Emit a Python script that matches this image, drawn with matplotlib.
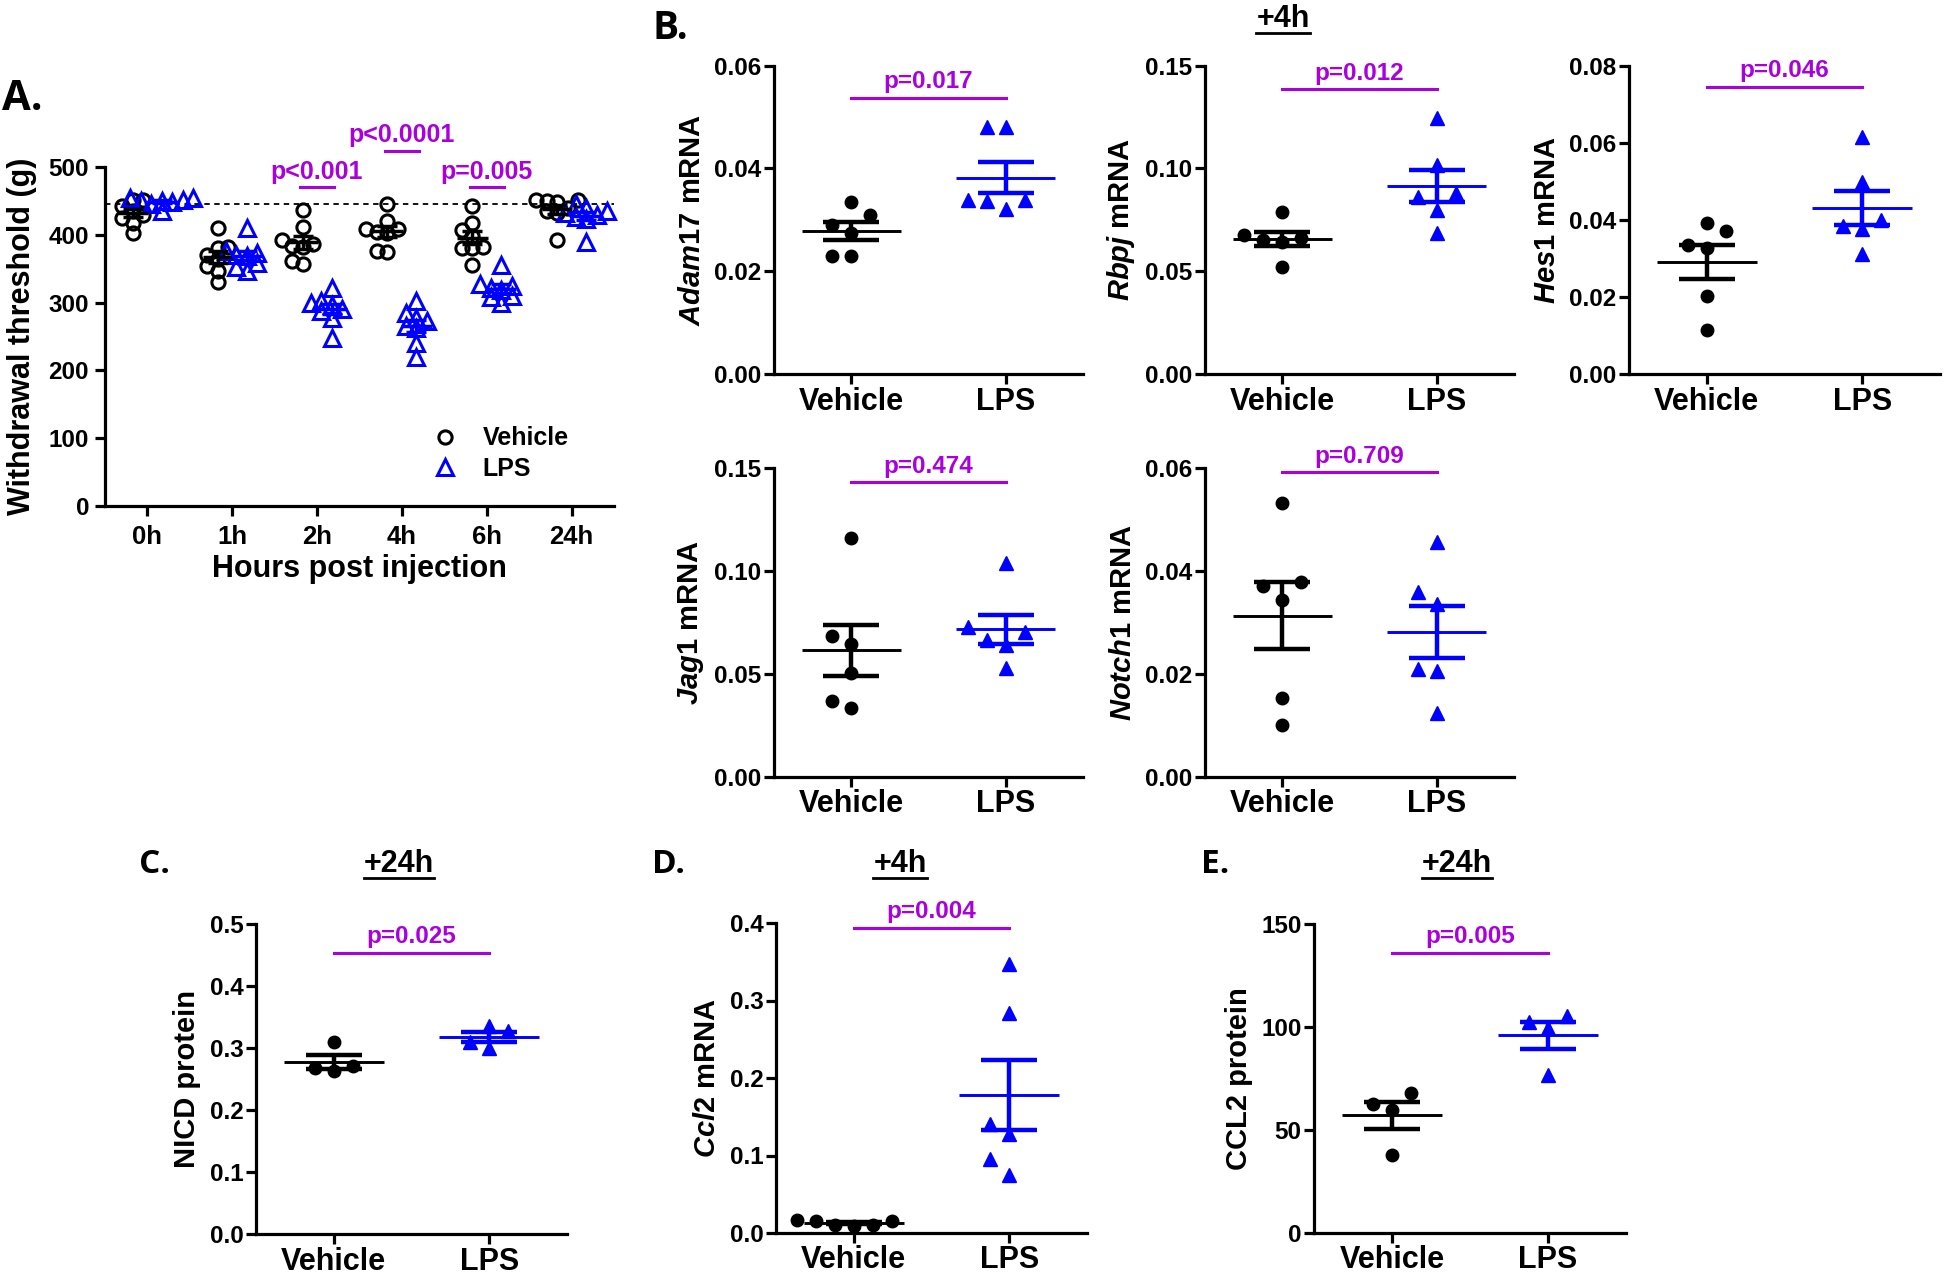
import numpy as np
import matplotlib
matplotlib.use('Agg')
import matplotlib.pyplot as plt
from matplotlib.lines import Line2D

# ---- data ----
hours = ['0h', '1h', '2h', '4h', '6h', '24h']
veh_threshold = [
  [452, 452, 443, 435, 429, 425, 418, 403],
  [410, 382, 380, 370, 365, 354, 346, 330],
  [437, 411, 392, 387, 384, 382, 361, 357],
  [446, 421, 409, 408, 404, 402, 376, 375],
  [442, 418, 407, 398, 382, 381, 380, 356],
  [452, 451, 450, 448, 440, 435, 432, 392],
]
lps_threshold = [
  [455, 455, 452, 450, 450, 448, 445, 435],
  [410, 376, 373, 370, 368, 358, 352, 346],
  [322, 302, 300, 296, 290, 288, 278, 248],
  [302, 284, 277, 273, 265, 262, 240, 220],
  [356, 327, 325, 322, 319, 310, 308, 299],
  [446, 440, 435, 432, 429, 426, 424, 389],
]
baseline_threshold = 445
a_pvals = ['', '', 'p<0.001', 'p<0.0001', 'p=0.005', '']
a_bar_y = [0, 0, 470, 524, 470, 0]

groups = ['Vehicle', 'LPS']

adam17_veh = [0.0335, 0.031, 0.029, 0.0275, 0.023, 0.023]
adam17_lps = [0.048, 0.048, 0.0338, 0.0336, 0.0338, 0.0322]
rbpj_veh = [0.0786, 0.0677, 0.066, 0.065, 0.064, 0.0523]
rbpj_lps = [0.1244, 0.1017, 0.0863, 0.088, 0.0799, 0.0685]
hes1_veh = [0.0393, 0.037, 0.0335, 0.0327, 0.0203, 0.0113]
hes1_lps = [0.0614, 0.0499, 0.040, 0.0383, 0.0376, 0.0312]
jag1_veh = [0.1157, 0.0683, 0.0642, 0.0502, 0.0367, 0.0332]
jag1_lps = [0.1039, 0.0725, 0.0704, 0.0663, 0.0639, 0.0526]
notch1_veh = [0.0532, 0.0379, 0.0371, 0.0343, 0.0152, 0.0100]
notch1_lps = [0.0455, 0.0358, 0.0335, 0.0210, 0.0205, 0.0123]
nicd_veh = [0.309, 0.2704, 0.2677, 0.2624]
nicd_lps = [0.335, 0.327, 0.309, 0.300]
ccl2_veh = [0.0150, 0.0108, 0.0086, 0.0163, 0.0099, 0.0150]
ccl2_lps = [0.3467, 0.2839, 0.1402, 0.1273, 0.0959, 0.0744]
ccl2p_veh = [67.96, 62.8, 59.5, 38.0]
ccl2p_lps = [105.5, 102.3, 99.5, 76.9]

BLUE = '#0000FF'
PURPLE = '#AA00DD'
W, H = 1944, 1274

plt.rcParams['font.family'] = ['Liberation Sans', 'DejaVu Sans']
plt.rcParams['font.weight'] = 'bold'
plt.rcParams['axes.labelweight'] = 'bold'
plt.rcParams['mathtext.fontset'] = 'custom'
plt.rcParams['mathtext.it'] = 'Liberation Sans:italic:bold'
plt.rcParams['mathtext.rm'] = 'Liberation Sans:bold'


def rect(l, t, r, b):
  return [l / W, 1 - b / H, (r - l) / W, (b - t) / H]


def swarm_x(ax, center, values, step_px, min_px):
  # column beeswarm: a point moves to the next free column when it would sit
  # on top of a point already placed in the same column
  tr = ax.transData
  px_per_x = tr.transform((1, 0))[0] - tr.transform((0, 0))[0]
  ys = [tr.transform((0, v))[1] for v in values]
  placed = []
  xs = [0.0] * len(values)
  for i in sorted(range(len(values)), key=lambda j: values[j]):
    for k in [0, -1, 1, -2, 2, -3, 3, -4, 4]:
      if all(k != pk or abs(ys[i] - py) >= min_px for pk, py in placed):
        break
    placed.append((k, ys[i]))
    xs[i] = center + k * step_px / px_per_x
  return xs


def style_axes(ax, ysize, xsize):
  ax.spines['top'].set_visible(False)
  ax.spines['right'].set_visible(False)
  ax.spines['left'].set_linewidth(2.3)
  ax.spines['bottom'].set_linewidth(2.3)
  ax.tick_params(width=2.3, length=7, pad=2)
  ax.tick_params(axis='y', labelsize=ysize)
  ax.tick_params(axis='x', labelsize=xsize)


def dot_panel(ax, veh, lps, ymax, ystep, fmt, ylabel, ptext, bar_y):
  ax.set_xlim(-0.5, 1.5)
  ax.set_ylim(0, ymax)
  ticks = np.arange(0, ymax + ystep / 2, ystep)
  ax.set_yticks(ticks)
  ax.set_yticklabels([fmt.format(t) for t in ticks])
  ax.set_xticks([0, 1])
  ax.set_xticklabels(groups)
  style_axes(ax, 17.5, 22)
  ax.set_ylabel(ylabel, fontsize=21, labelpad=6)
  for i, (vals, color, marker, ms) in enumerate([(veh, 'black', 'o', 9), (lps, BLUE, '^', 9.5)]):
    xs = swarm_x(ax, i, vals, 19, 20)
    ax.plot(xs, vals, ls='none', marker=marker, ms=ms, color=color,
            mec=color, clip_on=False, zorder=3)
    m = np.mean(vals)
    s = np.std(vals, ddof=1) / np.sqrt(len(vals))
    ax.errorbar(i, m, yerr=s, color=color, capsize=20, capthick=3.2,
                elinewidth=3.2, zorder=4)
    ax.hlines(m, i - 0.32, i + 0.32, color=color, lw=2.1, zorder=4)
  ax.plot([0, 1], [bar_y, bar_y], color=PURPLE, lw=2.2, clip_on=False)
  ax.annotate(ptext, xy=(0.5, bar_y), xytext=(0, 7), textcoords='offset points',
              ha='center', va='baseline', color=PURPLE, fontsize=17.5,
              annotation_clip=False)


fig = plt.figure(figsize=(W / 100, H / 100), dpi=100)

# ---- panel A ----
axA = fig.add_axes(rect(105, 167, 614, 506))
axA.set_xlim(-0.5, 5.5)
axA.set_ylim(0, 500)
axA.set_yticks(np.arange(0, 501, 100))
axA.set_xticks(range(len(hours)))
axA.set_xticklabels(hours)
style_axes(axA, 17.5, 18.5)
axA.tick_params(length=7.5, pad=4)
axA.tick_params(axis='x', pad=6)
axA.set_ylabel('Withdrawal threshold (g)', fontsize=22, labelpad=8)
axA.set_xlabel('Hours post injection', fontsize=22, labelpad=4)
axA.axhline(baseline_threshold, color='black', lw=1.3, ls=(0, (3, 2.5)), zorder=1)
for i in range(len(hours)):
  for vals, color, marker, ms, off in [(veh_threshold[i], 'black', 'o', 9.5, -0.17),
                                       (lps_threshold[i], BLUE, '^', 11, 0.17)]:
    xs = swarm_x(axA, i + off, vals, 10.5, 9)
    axA.plot(xs, vals, ls='none', marker=marker, ms=ms, mfc='none', mec=color,
             mew=2.2, zorder=3, clip_on=False)
    m = np.mean(vals)
    s = np.std(vals, ddof=1) / np.sqrt(len(vals))
    axA.errorbar(i + off, m, yerr=s, color=color, capsize=7.5, capthick=2.5,
                 elinewidth=2.5, zorder=4)
    axA.hlines(m, i + off - 0.18, i + off + 0.18, color=color, lw=2.5, zorder=4)
  if a_pvals[i]:
    axA.plot([i - 0.2, i + 0.2], [a_bar_y[i], a_bar_y[i]], color=PURPLE, lw=2.2,
             clip_on=False)
    axA.annotate(a_pvals[i], xy=(i, a_bar_y[i]), xytext=(0, 6),
                 textcoords='offset points', ha='center', va='baseline',
                 color=PURPLE, fontsize=18, annotation_clip=False)
hA = [Line2D([], [], ls='none', marker='o', ms=9.5, mfc='none', mec='black', mew=2.2),
      Line2D([], [], ls='none', marker='^', ms=11, mfc='none', mec=BLUE, mew=2.2)]
axA.legend(hA, groups, loc='center left', bbox_to_anchor=(0.644, 0.155),
           frameon=False, handlelength=1, handletextpad=1.0, borderpad=0,
           borderaxespad=0, labelspacing=0.25, prop=dict(size=18, weight='bold'))

# ---- panel B ----
dot_panel(fig.add_axes(rect(774, 65.7, 1083, 374)), adam17_veh, adam17_lps,
          0.06, 0.02, '{:.2f}', r'$\mathit{Adam17}$ mRNA', 'p=0.017', 0.0538)
dot_panel(fig.add_axes(rect(1205, 65.7, 1514, 374)), rbpj_veh, rbpj_lps,
          0.15, 0.05, '{:.2f}', r'$\mathit{Rbpj}$ mRNA', 'p=0.012', 0.1385)
dot_panel(fig.add_axes(rect(1629, 65.7, 1940, 374)), hes1_veh, hes1_lps,
          0.08, 0.02, '{:.2f}', r'$\mathit{Hes1}$ mRNA', 'p=0.046', 0.0746)
dot_panel(fig.add_axes(rect(774, 467.7, 1083, 776.7)), jag1_veh, jag1_lps,
          0.15, 0.05, '{:.2f}', r'$\mathit{Jag1}$ mRNA', 'p=0.474', 0.1429)
dot_panel(fig.add_axes(rect(1205, 467.7, 1514, 776.7)), notch1_veh, notch1_lps,
          0.06, 0.02, '{:.2f}', r'$\mathit{Notch1}$ mRNA', 'p=0.709', 0.0591)

# ---- panels C, D, E ----
dot_panel(fig.add_axes(rect(256, 924, 567, 1234)), nicd_veh, nicd_lps,
          0.5, 0.1, '{:.1f}', 'NICD protein', 'p=0.025', 0.4532)
dot_panel(fig.add_axes(rect(776, 923, 1087, 1233)), ccl2_veh, ccl2_lps,
          0.4, 0.1, '{:.1f}', r'$\mathit{Ccl2}$ mRNA', 'p=0.004', 0.394)
dot_panel(fig.add_axes(rect(1314, 924, 1626, 1233)), ccl2p_veh, ccl2p_lps,
          150, 50, '{:.0f}', 'CCL2 protein', 'p=0.005', 135.9)

# ---- panel letters and underlined time titles ----
for txt, x, y, size in [('A.', 2, 110, 30), ('B.', 652, 39, 28), ('C.', 139, 873, 24),
                        ('D.', 652, 873, 24), ('E.', 1201, 873, 24)]:
  fig.text(x / W, 1 - y / H, txt, ha='left', va='baseline', fontsize=size,
           family='Open Sans', weight='bold')

renderer = fig.canvas.get_renderer()
for txt, x, y in [('+4h', 1283, 27), ('+24h', 399, 872), ('+4h', 900, 872),
                  ('+24h', 1457, 872)]:
  t = fig.text(x / W, 1 - y / H, txt, ha='center', va='baseline', fontsize=22)
  bb = t.get_window_extent(renderer)
  fig.add_artist(Line2D([bb.x0 / W, bb.x1 / W], [1 - (y + 6) / H, 1 - (y + 6) / H],
                        color='black', lw=2, transform=fig.transFigure))

fig.savefig('out.png', dpi=100)
